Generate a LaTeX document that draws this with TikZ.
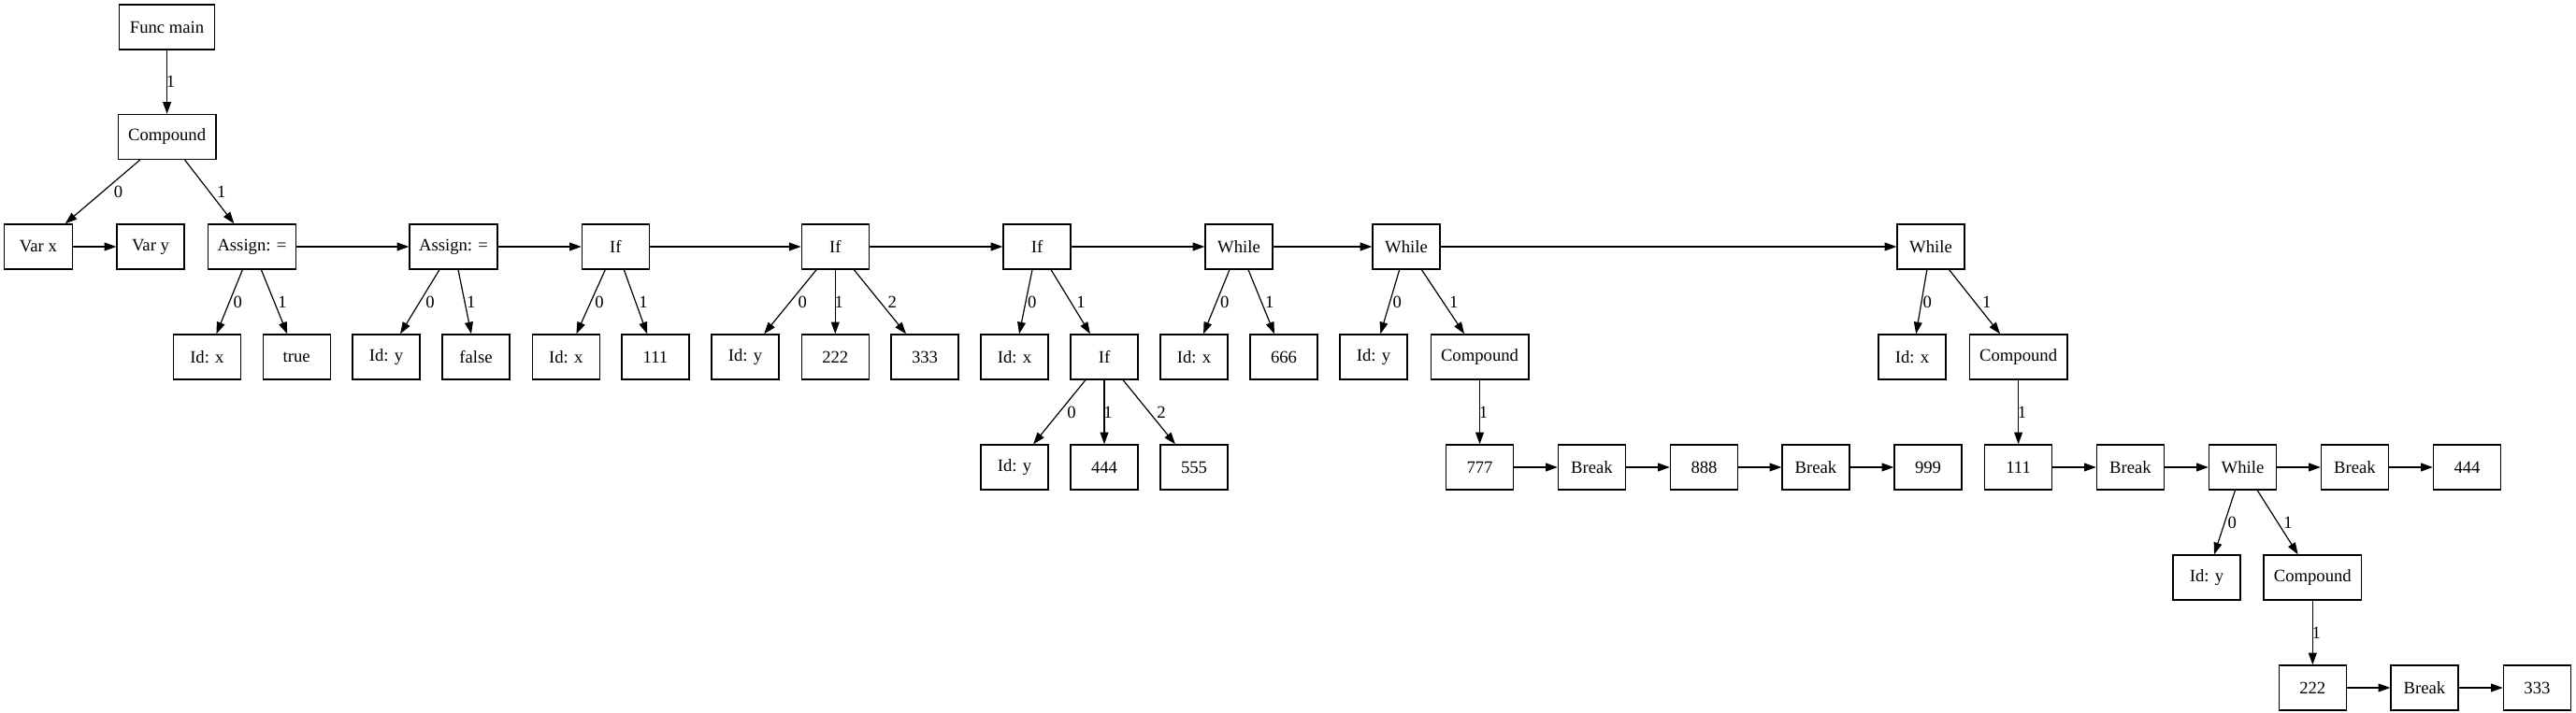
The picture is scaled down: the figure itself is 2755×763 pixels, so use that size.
\documentclass[tikz,border=0pt]{standalone}
\usepackage{fontspec}
\setmainfont{Liberation Serif}
\usetikzlibrary{arrows.meta}
\begin{document}
\begin{tikzpicture}[x=0.75pt,y=-0.75pt,
  box/.style={draw, line width=1pt, minimum width=54pt, minimum height=36pt, inner sep=0pt, font=\fontsize{14}{16}\selectfont},
  wide/.style={box, minimum width=78.5pt},
  arr/.style={-{Triangle[length=9.5pt,width=6.6pt]}, line width=0.9pt},
  lb/.style={midway, inner sep=0pt, font=\fontsize{14}{16}\selectfont, xshift=#1*0.75pt}]
\fill[white] (0,0) rectangle (2755,763);
\useasboundingbox (0,0) rectangle (2755,763);
% row 0
\node[box, minimum width=76.5pt] (fm) at (178.6,29) {Func main};
% row 1
\node[wide] (c1) at (178.6,146.5) {Compound};
% row 2
\node[box, minimum width=55pt] (vx) at (40.9,264) {Var x};
\node[box] (vy) at (161,264) {Var y};
\node[box, minimum width=70.5pt] (a1) at (269.4,264) {Assign: =};
\node[box, minimum width=70.5pt] (a2) at (485,264) {Assign: =};
\node[box] (if1) at (658.4,264) {If};
\node[box] (if2) at (893.3,264) {If};
\node[box] (if3) at (1109,264) {If};
\node[box] (w1) at (1325,264) {While};
\node[box] (w2) at (1504,264) {While};
\node[box] (w3) at (2065,264) {While};
% row 3
\node[box] (idx1) at (221.4,382) {Id: x};
\node[box] (tr) at (317.2,382) {true};
\node[box] (idy1) at (413,382) {Id: y};
\node[box] (fa) at (509,382) {false};
\node[box] (idx2) at (605.3,382) {Id: x};
\node[box] (n111) at (701,382) {111};
\node[box] (idy2) at (797,382) {Id: y};
\node[box] (n222) at (893.3,382) {222};
\node[box] (n333) at (989,382) {333};
\node[box] (idx3) at (1085,382) {Id: x};
\node[box] (if4) at (1181,382) {If};
\node[box] (idx4) at (1277,382) {Id: x};
\node[box] (n666) at (1373,382) {666};
\node[box] (idy3) at (1469,382) {Id: y};
\node[wide] (c2) at (1582.5,382) {Compound};
\node[box] (idx5) at (2045,382) {Id: x};
\node[wide] (c3) at (2158.6,382) {Compound};
% row 4
\node[box] (idy4) at (1085,500) {Id: y};
\node[box] (n444) at (1181,500) {444};
\node[box] (n555) at (1277,500) {555};
\node[box] (n777) at (1582.5,500) {777};
\node[box] (br1) at (1702.5,500) {Break};
\node[box] (n888) at (1822.5,500) {888};
\node[box] (br2) at (1942,500) {Break};
\node[box] (n999) at (2062,500) {999};
\node[box] (n111b) at (2158.6,500) {111};
\node[box] (br3) at (2278.4,500) {Break};
\node[box] (w4) at (2398.5,500) {While};
\node[box] (br4) at (2518.5,500) {Break};
\node[box] (n444b) at (2638.5,500) {444};
% row 5
\node[box] (idy5) at (2360,618) {Id: y};
\node[wide] (c4) at (2473.3,618) {Compound};
% row 6
\node[box] (n222b) at (2473.3,736) {222};
\node[box] (br5) at (2593,736) {Break};
\node[box] (n333b) at (2713.4,736) {333};
% labelled tree edges
\draw[arr] (fm) -- node[lb=4] {1} (c1);
\draw[arr] (c1) -- node[lb=16.9] {0} (vx);
\draw[arr] (c1) -- node[lb=12.7] {1} (a1);
\draw[arr] (a1) -- node[lb=8.8] {0} (idx1);
\draw[arr] (a1) -- node[lb=8.8] {1} (tr);
\draw[arr] (a2) -- node[lb=11] {0} (idy1);
\draw[arr] (a2) -- node[lb=6.7] {1} (fa);
\draw[arr] (if1) -- node[lb=9.3] {0} (idx2);
\draw[arr] (if1) -- node[lb=8.3] {1} (n111);
\draw[arr] (if2) -- node[lb=13.2] {0} (idy2);
\draw[arr] (if2) -- node[lb=4] {1} (n222);
\draw[arr] (if2) -- node[lb=13.1] {2} (n333);
\draw[arr] (if3) -- node[lb=6.7] {0} (idx3);
\draw[arr] (if3) -- node[lb=11] {1} (if4);
\draw[arr] (if4) -- node[lb=13.1] {0} (idy4);
\draw[arr] (if4) -- node[lb=4] {1} (n444);
\draw[arr] (if4) -- node[lb=13.1] {2} (n555);
\draw[arr] (w1) -- node[lb=8.8] {0} (idx4);
\draw[arr] (w1) -- node[lb=8.8] {1} (n666);
\draw[arr] (w2) -- node[lb=7.7] {0} (idy3);
\draw[arr] (w2) -- node[lb=11.6] {1} (c2);
\draw[arr] (w3) -- node[lb=6.3] {0} (idx5);
\draw[arr] (w3) -- node[lb=12.9] {1} (c3);
\draw[arr] (c2) -- node[lb=4] {1} (n777);
\draw[arr] (c3) -- node[lb=4] {1} (n111b);
\draw[arr] (w4) -- node[lb=8] {0} (idy5);
\draw[arr] (w4) -- node[lb=11.2] {1} (c4);
\draw[arr] (c4) -- node[lb=4] {1} (n222b);
% sibling chains
\draw[arr] (vx) -- (vy);
\draw[arr] (a1) -- (a2);
\draw[arr] (a2) -- (if1);
\draw[arr] (if1) -- (if2);
\draw[arr] (if2) -- (if3);
\draw[arr] (if3) -- (w1);
\draw[arr] (w1) -- (w2);
\draw[arr] (w2) -- (w3);
\draw[arr] (n777) -- (br1);
\draw[arr] (br1) -- (n888);
\draw[arr] (n888) -- (br2);
\draw[arr] (br2) -- (n999);
\draw[arr] (n111b) -- (br3);
\draw[arr] (br3) -- (w4);
\draw[arr] (w4) -- (br4);
\draw[arr] (br4) -- (n444b);
\draw[arr] (n222b) -- (br5);
\draw[arr] (br5) -- (n333b);
\end{tikzpicture}
\end{document}
